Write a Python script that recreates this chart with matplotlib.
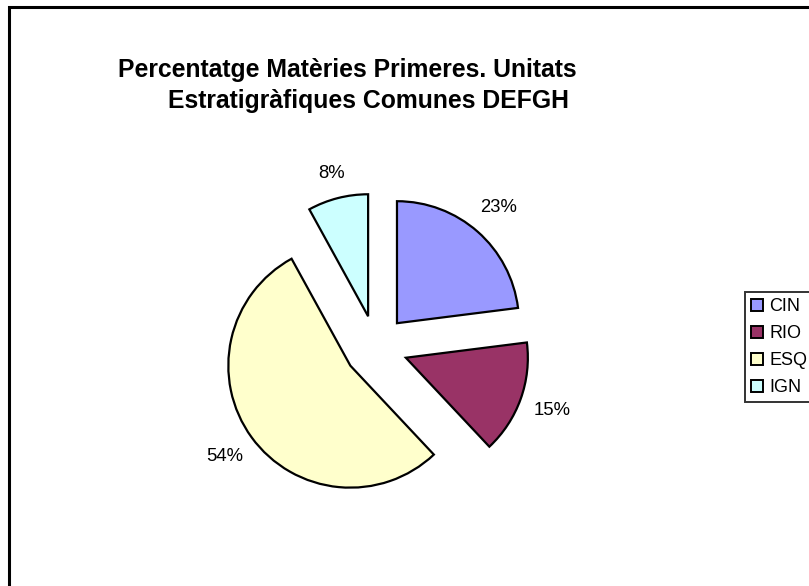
import numpy as np
import matplotlib
matplotlib.use("Agg")
import matplotlib.pyplot as plt
from matplotlib.patches import Rectangle, Patch

plt.rcParams['font.family'] = ['Liberation Sans', 'DejaVu Sans']

# Materials and their share (%)
categories = ['CIN', 'RIO', 'ESQ', 'IGN']
values = [23, 15, 54, 8]
colors = ['#9999FF', '#993366', '#FFFFCC', '#CCFFFF']

title_line1 = 'Percentatge Matèries Primeres. Unitats'
title_line2 = 'Estratigràfiques Comunes DEFGH'

W, H = 809, 586
fig = plt.figure(figsize=(W / 100, H / 100), dpi=100)

# pie centre (px) and radius (px)
cx, cy, r = 376, 347, 122
lim = 1.45
explode = 0.26
size = 2 * lim * r
ax = fig.add_axes([(cx - size / 2) / W, (H - cy - size / 2) / H, size / W, size / H])

wedges, texts, autotexts = ax.pie(
    values, colors=colors, explode=[explode] * len(values),
    startangle=90, counterclock=False, radius=1,
    autopct=lambda p: f'{p:.0f}%', pctdistance=1.24,
    wedgeprops=dict(edgecolor='black', linewidth=1.6),
    textprops=dict(fontsize=13.3, color='black'),
)
# pie() sets its own limits, so fix them afterwards
ax.set_xlim(-lim, lim)
ax.set_ylim(-lim, lim)
ax.set_aspect('equal')
ax.axis('off')

# push each percentage just outside its wedge, by the size of its own box
renderer = fig.canvas.get_renderer()
gap = 0.11
for w, t in zip(wedges, autotexts):
    th = np.deg2rad((w.theta1 + w.theta2) / 2)
    d = np.array([np.cos(th), np.sin(th)])
    bb = t.get_window_extent(renderer)
    half = (abs(d[0]) * bb.width / 2 + abs(d[1]) * bb.height / 2) / r
    dist = explode + 1 + gap + half
    t.set_position(d * dist)

fig.text(347 / W, 1 - 70 / H, title_line1, ha='center', va='center',
         fontsize=17.8, fontweight='bold')
fig.text(368 / W, 1 - 101 / H, title_line2, ha='center', va='center',
         fontsize=17.8, fontweight='bold')

handles = [Patch(facecolor=c, edgecolor='black', linewidth=1.4) for c in colors]
leg = fig.legend(handles, categories, loc='upper left',
                 bbox_to_anchor=(745 / W, 1 - 292 / H),
                 fontsize=13, frameon=True, fancybox=False,
                 handlelength=0.65, handleheight=0.65, handletextpad=0.35,
                 labelspacing=0.55, borderpad=0.35, borderaxespad=0)
leg.get_frame().set_edgecolor('black')
leg.get_frame().set_linewidth(1.4)

# outer chart border, cut off at the right and bottom
fig.add_artist(Rectangle((9 / W, -0.05), 1.1, 1 - 7 / H + 0.05,
                         transform=fig.transFigure, fill=False,
                         edgecolor='black', linewidth=2.2, clip_on=False))

fig.savefig('out.png', dpi=100)
